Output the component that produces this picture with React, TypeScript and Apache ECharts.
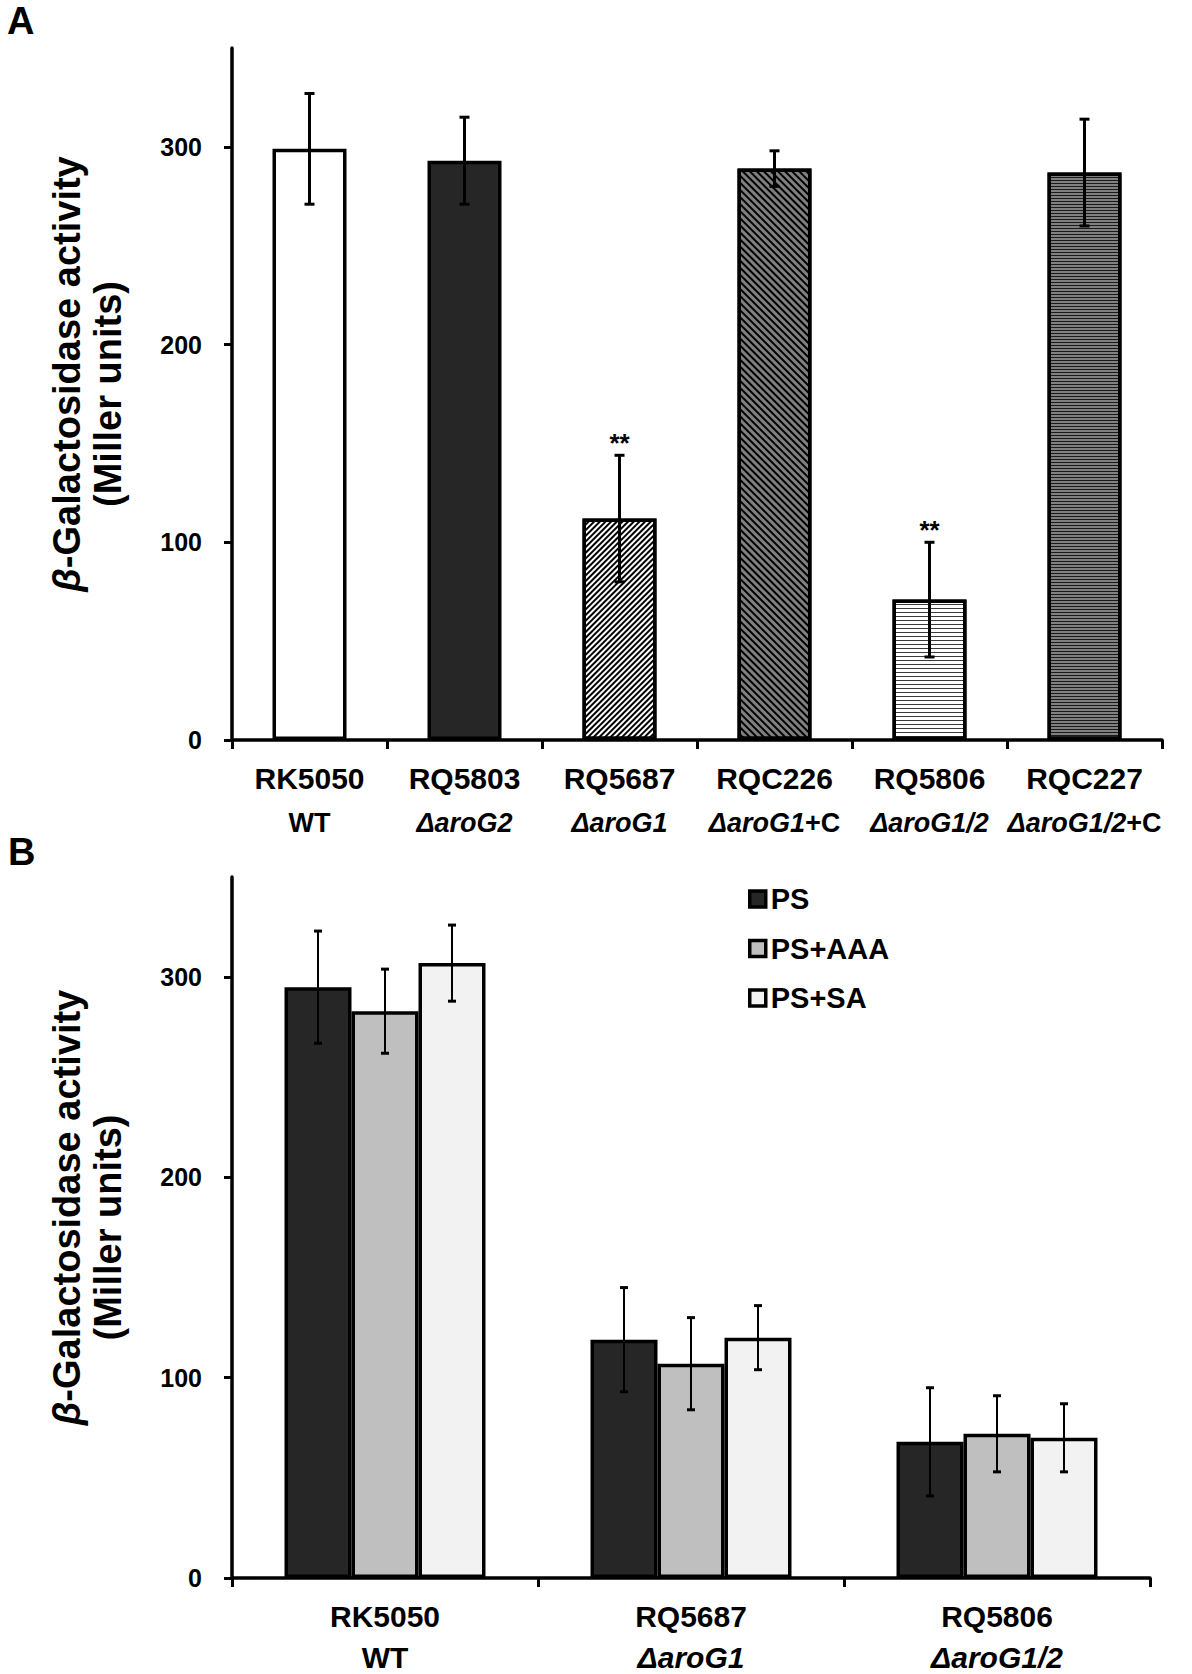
import React, { useEffect, useRef } from 'react';
import * as echarts from 'echarts';

// ---------- data ----------
const strainsA = ['RK5050', 'RQ5803', 'RQ5687', 'RQC226', 'RQ5806', 'RQC227'];
const genotypesA = ['WT', 'ΔaroG2', 'ΔaroG1', 'ΔaroG1+C', 'ΔaroG1/2', 'ΔaroG1/2+C'];
const meansA = [299, 293, 112, 289, 71, 287];
const errorsA = [28, 22, 32, 9, 29, 27];
const signifA = ['', '', '**', '', '**', ''];

const strainsB = ['RK5050', 'RQ5687', 'RQ5806'];
const genotypesB = ['WT', 'ΔaroG1', 'ΔaroG1/2'];
const seriesNamesB = ['PS', 'PS+AAA', 'PS+SA'];
const meansPS = [295, 119, 68];
const meansAAA = [283, 107, 72];
const meansSA = [307, 120, 70];
const errorsPS = [28, 26, 27];
const errorsAAA = [21, 23, 19];
const errorsSA = [19, 16, 17];

const yTicks = [0, 100, 200, 300];
const yMax = 350;

// ---------- styles ----------
const FONT = "'Liberation Sans', Arial, Helvetica, sans-serif";
const BAR_W_A = 74;
const BAR_W_B = 67;
const colorsB = ['#262626', '#bfbfbf', '#f2f2f2'];

const barStylesA: any[] = [
  { color: '#ffffff' },
  { color: '#262626' },
  {
    color: '#ffffff',
    decal: { symbol: 'rect', symbolSize: 1, color: '#000000', dashArrayX: [1, 0], dashArrayY: [2, 2], rotation: -Math.PI / 4 },
  },
  {
    color: '#808080',
    decal: { symbol: 'rect', symbolSize: 1, color: '#000000', dashArrayX: [1, 0], dashArrayY: [2, 3], rotation: Math.PI / 4 },
  },
  {
    color: '#ffffff',
    decal: { symbol: 'rect', symbolSize: 1, color: '#3a3a3a', dashArrayX: [1, 0], dashArrayY: [1, 3], rotation: 0 },
  },
  {
    color: '#808080',
    decal: { symbol: 'rect', symbolSize: 1, color: '#1a1a1a', dashArrayX: [1, 0], dashArrayY: [1, 2], rotation: 0 },
  },
];

const makeRich = (l1: number, l2: number, fs2: number) => ({
  b: { fontFamily: FONT, fontWeight: 'bold', fontSize: 30, lineHeight: l1, color: '#000' },
  n: { fontFamily: FONT, fontWeight: 'bold', fontSize: fs2, lineHeight: l2, color: '#000' },
  i: { fontFamily: FONT, fontWeight: 'bold', fontStyle: 'italic', fontSize: fs2, lineHeight: l2, color: '#000' },
});

const catLabel = (strain: string, geno: string) => {
  let second: string;
  if (geno === 'WT') second = '{n|WT}';
  else if (geno.endsWith('+C')) second = `{i|${geno.slice(0, -2)}}{n|+C}`;
  else second = `{i|${geno}}`;
  return `{b|${strain}}\n${second}`;
};

const yName = '{sp| }{g|β}{t|-Galactosidase activity}\n{t|(Miller units)}';
const nameRich = {
  sp: { width: 40, fontSize: 38, lineHeight: 41 },
  g: { fontFamily: FONT, fontWeight: 'bold', fontStyle: 'italic', fontSize: 38, lineHeight: 41, color: '#000' },
  t: { fontFamily: FONT, fontWeight: 'bold', fontSize: 38, lineHeight: 41, color: '#000' },
};

const xAxisCommon = (gridIndex: number, data: string[], genos: string[], margin: number, rich: any) => ({
  type: 'category',
  gridIndex,
  data,
  boundaryGap: true,
  axisLine: { show: true, lineStyle: { color: '#000', width: 3.5 } },
  axisTick: { show: true, interval: 0, alignWithLabel: false, length: 9, lineStyle: { color: '#000', width: 3 } },
  axisLabel: {
    interval: 0,
    margin,
    formatter: (_v: string, idx: number) => catLabel(data[idx], genos[idx]),
    rich,
  },
  splitLine: { show: false },
});

const yAxisCommon = (gridIndex: number) => ({
  type: 'value',
  gridIndex,
  min: 0,
  max: yMax,
  interval: 100,
  axisLine: { show: true, lineStyle: { color: '#000', width: 3.5 } },
  axisTick: { show: true, length: 8, lineStyle: { color: '#000', width: 3 }, customValues: yTicks },
  axisLabel: {
    customValues: yTicks,
    margin: 30,
    fontFamily: FONT,
    fontWeight: 'bold',
    fontSize: 25,
    color: '#000',
    formatter: (v: number) => (yTicks.indexOf(v) >= 0 ? String(v) : ''),
  },
  splitLine: { show: false },
  name: yName,
  nameLocation: 'middle',
  nameRotate: 90,
  nameGap: 104,
  nameTextStyle: { rich: nameRich, fontFamily: FONT, fontWeight: 'bold', fontSize: 38, lineHeight: 41, color: '#000' },
});

const errLine = (x1: number, y1: number, x2: number, y2: number, w: number) => ({
  type: 'line',
  shape: { x1, y1, x2, y2 },
  style: { stroke: '#000', lineWidth: w },
});

const errorSeries = (
  axisIndex: number,
  means: number[],
  errs: number[],
  offset: number,
  capHalf: number,
  lw: number,
  sig?: string[],
) => ({
  type: 'custom',
  name: 'err' + axisIndex + '_' + offset,
  xAxisIndex: axisIndex,
  yAxisIndex: axisIndex,
  z: 10,
  silent: true,
  data: means.map((m, i) => [i, m, errs[i]]),
  encode: { x: 0, y: 1 },
  renderItem: (params: any, api: any) => {
    const i = api.value(0);
    const m = api.value(1);
    const e = api.value(2);
    const top = api.coord([i, m + e]);
    const bot = api.coord([i, m - e]);
    const x = top[0] + offset;
    const children: any[] = [
      errLine(x, top[1], x, bot[1], lw),
      errLine(x - capHalf, top[1], x + capHalf, top[1], 3),
      errLine(x - capHalf, bot[1], x + capHalf, bot[1], 3),
    ];
    const s = sig ? sig[params.dataIndex] : '';
    if (s) {
      children.push({
        type: 'text',
        x,
        y: top[1] + 1,
        style: {
          text: s,
          font: `bold 26px ${FONT}`,
          fill: '#000',
          align: 'center',
          verticalAlign: 'bottom',
          textAlign: 'center',
          textVerticalAlign: 'bottom',
        },
      });
    }
    return { type: 'group', children };
  },
});

const meansB = [meansPS, meansAAA, meansSA];
const errorsB = [errorsPS, errorsAAA, errorsSA];

const option: any = {
  animation: false,
  backgroundColor: '#ffffff',
  grid: [
    { left: 232, top: 48, width: 930, height: 692, outerBoundsMode: 'none', containLabel: false },
    { left: 232, top: 877, width: 918, height: 701, outerBoundsMode: 'none', containLabel: false },
  ],
  xAxis: [
    xAxisCommon(0, strainsA, genotypesA, 15, makeRich(46, 44, 27)),
    xAxisCommon(1, strainsB, genotypesB, 4, makeRich(68, 14, 30)),
  ],
  yAxis: [yAxisCommon(0), yAxisCommon(1)],
  legend: {
    data: seriesNamesB,
    orient: 'vertical',
    left: 743,
    top: 879,
    icon: 'rect',
    itemWidth: 16,
    itemHeight: 16,
    itemGap: 19.5,
    itemStyle: { borderColor: '#000', borderWidth: 3.5 },
    textStyle: { fontFamily: FONT, fontWeight: 'bold', fontSize: 29, lineHeight: 30, color: '#000' },
    selectedMode: false,
  },
  graphic: [
    { type: 'text', left: 7, top: 2, style: { text: 'A', font: `bold 38px ${FONT}`, fill: '#000' } },
    { type: 'text', left: 8, top: 833, style: { text: 'B', font: `bold 38px ${FONT}`, fill: '#000' } },
  ],
  series: [
    {
      type: 'bar',
      name: 'A',
      xAxisIndex: 0,
      yAxisIndex: 0,
      barWidth: BAR_W_A,
      silent: true,
      data: meansA.map((v, i) => ({
        value: v,
        itemStyle: { ...barStylesA[i], borderColor: '#000', borderWidth: 3.5 },
      })),
    },
    errorSeries(0, meansA, errorsA, 0, 5, 3, signifA),
    ...seriesNamesB.map((name, k) => ({
      type: 'bar',
      name,
      xAxisIndex: 1,
      yAxisIndex: 1,
      barWidth: BAR_W_B,
      barGap: '0%',
      silent: true,
      itemStyle: { color: colorsB[k], borderColor: '#000', borderWidth: 3.5 },
      data: meansB[k],
    })),
    ...seriesNamesB.map((_n, k) => errorSeries(1, meansB[k], errorsB[k], (k - 1) * BAR_W_B, 4, 2)),
  ],
};

export default function App() {
  const ref = useRef<HTMLDivElement>(null);
  useEffect(() => {
    document.body.style.margin = '0';
    const chart = echarts.init(ref.current as HTMLDivElement, null, { renderer: 'svg' });
    chart.setOption(option);
    return () => chart.dispose();
  }, []);
  return <div ref={ref} style={{ width: 1192, height: 1674, background: '#fff' }} />;
}
